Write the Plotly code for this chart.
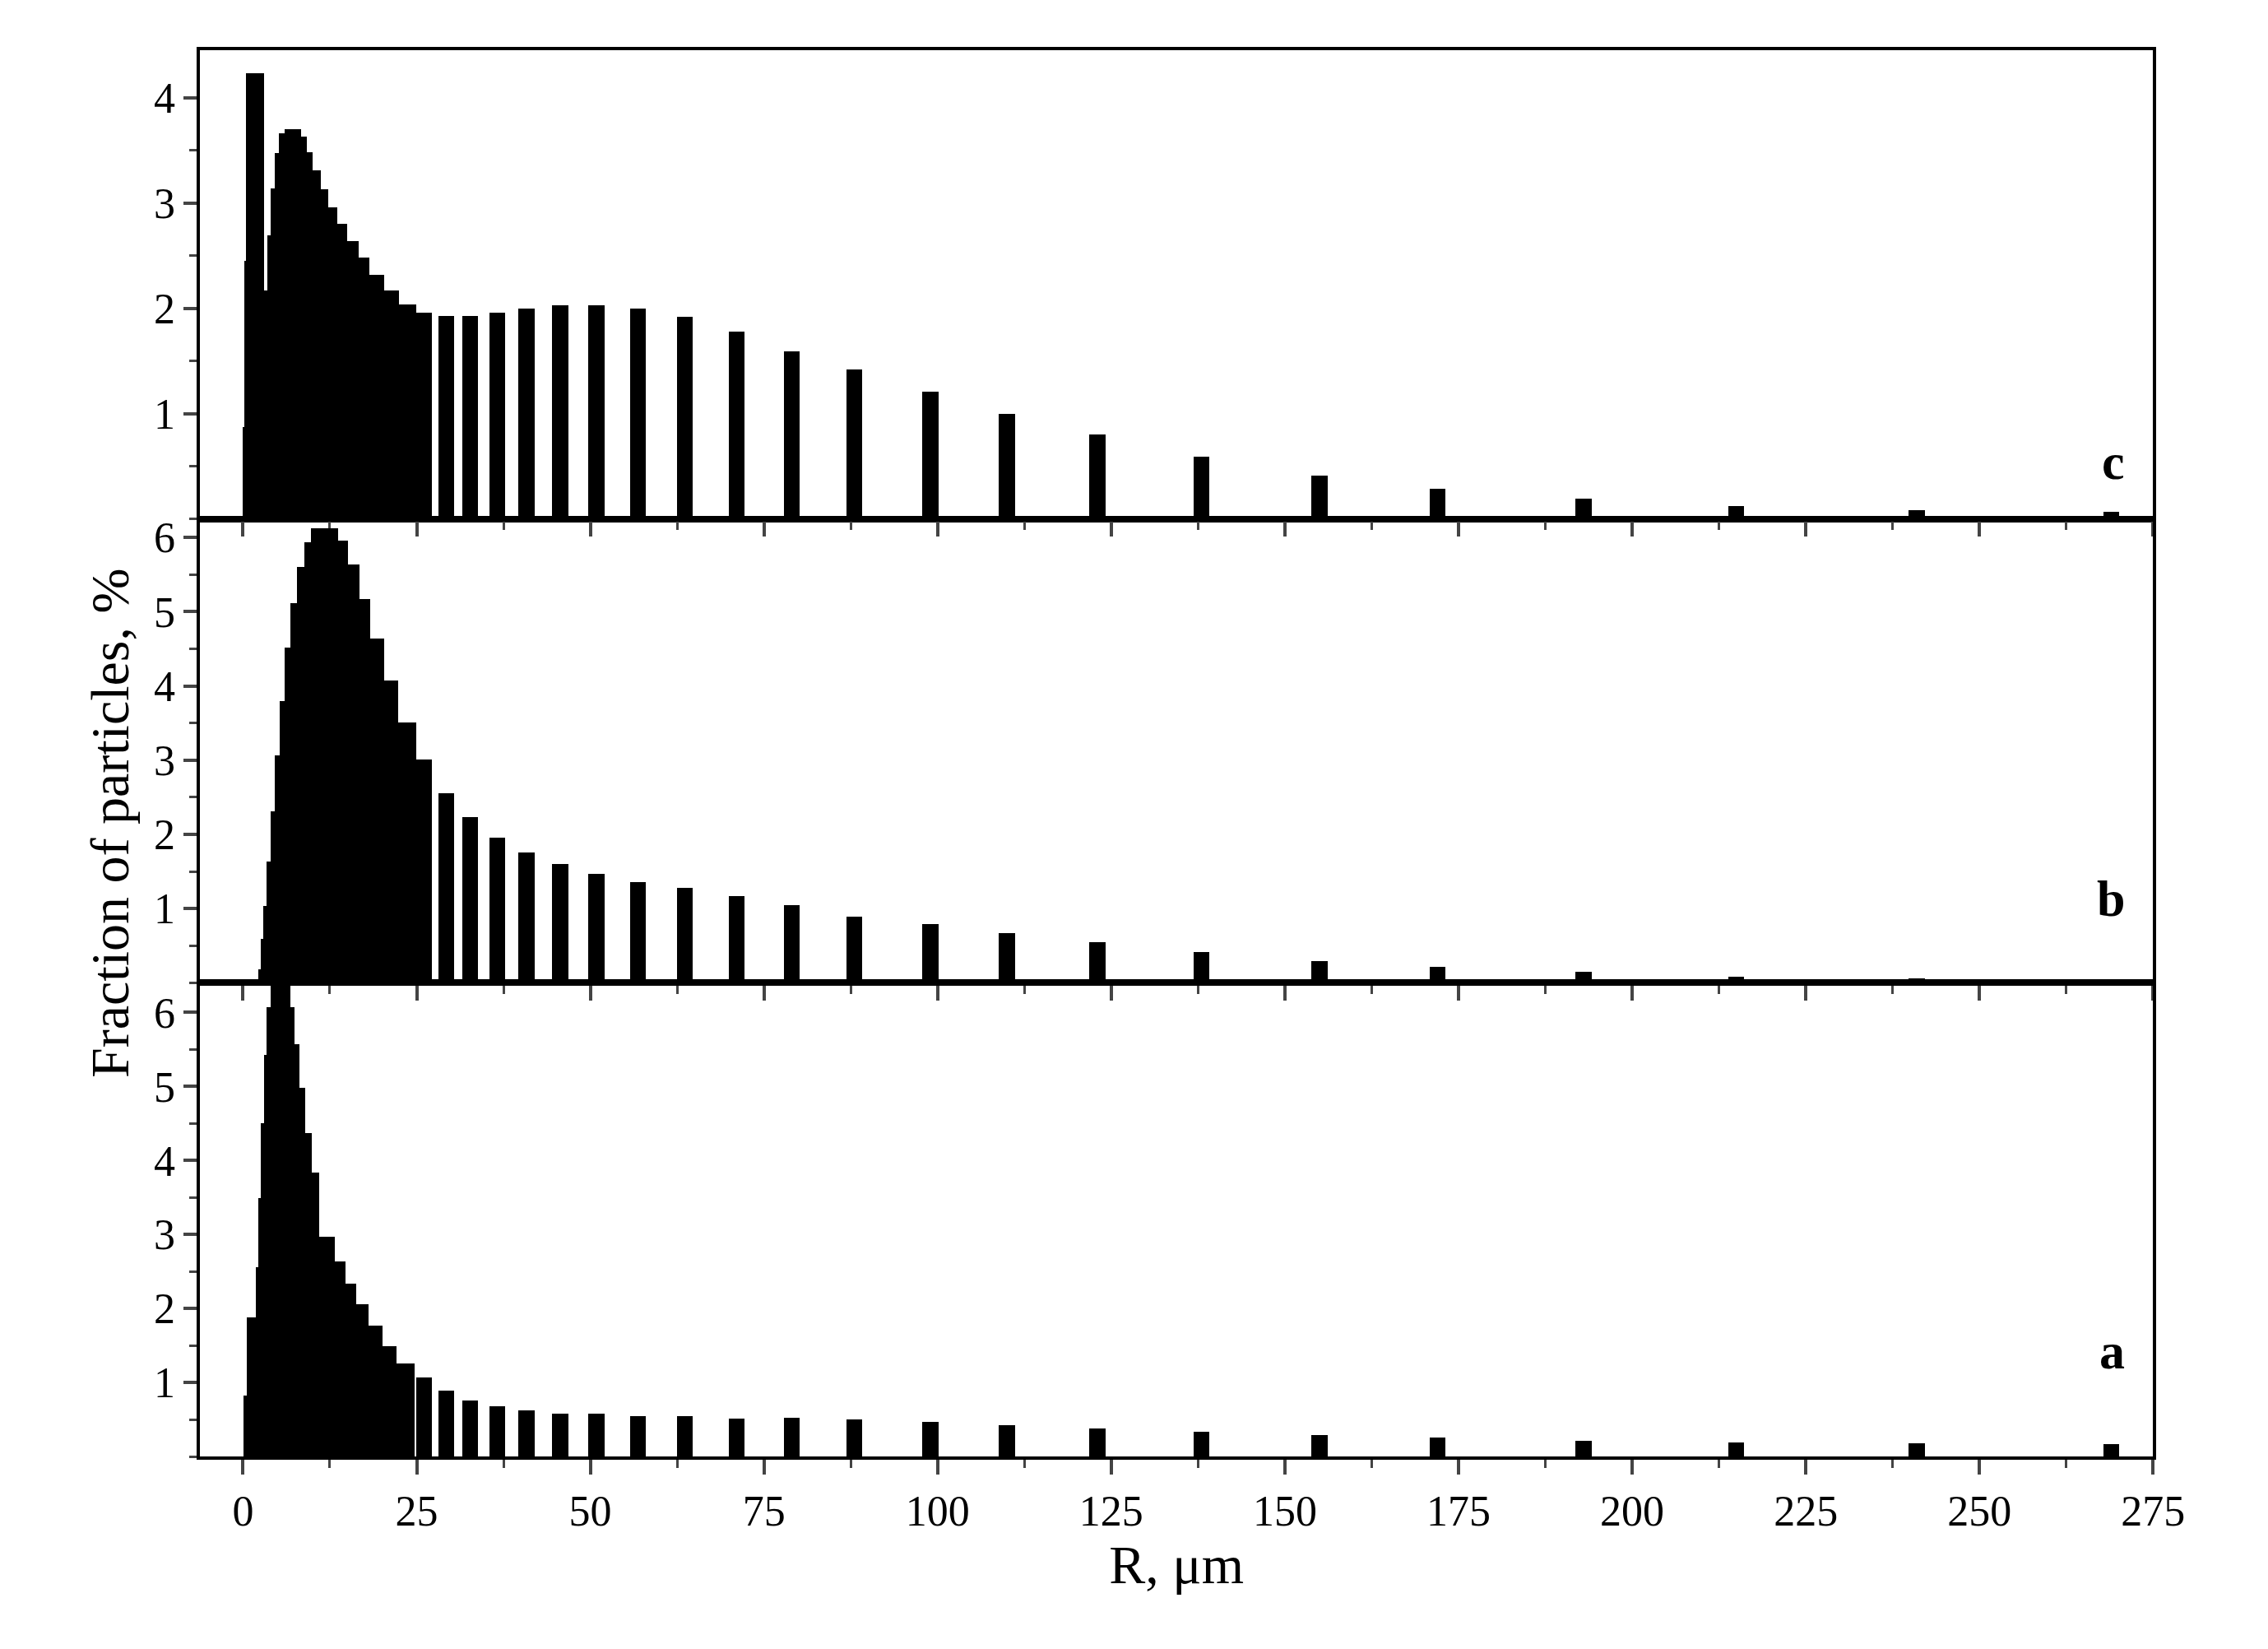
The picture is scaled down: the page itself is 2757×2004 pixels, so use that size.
import numpy as np
import plotly.graph_objects as go
from plotly.subplots import make_subplots

# R values (um) of the separated bars beyond ~25 um, shared by all panels
r_wide = [26.1, 29.3, 32.7, 36.6, 40.8, 45.7, 50.9, 56.9, 63.6, 71.1, 79, 88,
          99, 110, 123, 138, 155, 172, 193, 215, 241, 269]
wide_width = 2.3

# panel c
c_edges = [-0.52, 0.0, 0.26, 0.42, 3.02, 3.49, 4.01, 4.53, 5.21, 5.99, 8.33, 9.22,
           10.05, 11.2, 12.29, 13.54, 15.0, 16.67, 18.23, 20.31, 22.5, 25.0]
c_vals = [0.03, 0.87, 2.45, 4.23, 2.17, 2.69, 3.14, 3.47, 3.66, 3.70, 3.63, 3.48,
          3.31, 3.13, 2.96, 2.80, 2.64, 2.48, 2.32, 2.17, 2.04]
c_wide = [1.96, 1.93, 1.93, 1.96, 2.0, 2.03, 2.03, 2.0, 1.92, 1.78, 1.59, 1.42,
          1.21, 1.0, 0.8, 0.59, 0.41, 0.29, 0.19, 0.12, 0.08, 0.07]

# panel b
b_edges = [2.19, 2.55, 2.97, 3.39, 4.01, 4.53, 5.31, 5.94, 6.88, 7.76, 8.8, 9.84,
           13.65, 15.1, 16.77, 18.33, 20.31, 22.4, 24.95]
b_vals = [0.19, 0.6, 1.04, 1.64, 2.31, 3.07, 3.8, 4.52, 5.12, 5.61, 5.94, 6.13,
          5.96, 5.64, 5.18, 4.64, 4.08, 3.51]
b_wide = [3.01, 2.56, 2.24, 1.96, 1.76, 1.6, 1.47, 1.36, 1.28, 1.17, 1.05, 0.9,
          0.8, 0.67, 0.55, 0.42, 0.3, 0.22, 0.15, 0.09, 0.06, 0.05]

# panel a
a_edges = [0.1, 0.52, 1.82, 2.24, 2.6, 3.02, 3.39, 4.01, 6.77, 7.45, 8.18, 9.01,
           9.95, 10.94, 13.28, 14.74, 16.3, 18.13, 20.05, 22.14, 24.74]
a_vals = [0.82, 1.88, 2.55, 3.49, 4.5, 5.42, 6.07, 6.39, 6.07, 5.57, 4.98, 4.37,
          3.83, 2.96, 2.63, 2.33, 2.05, 1.76, 1.49, 1.25]
a_wide = [1.06, 0.89, 0.75, 0.67, 0.62, 0.58, 0.57, 0.54, 0.54, 0.51, 0.52, 0.5,
          0.46, 0.42, 0.38, 0.33, 0.29, 0.25, 0.21, 0.19, 0.17, 0.16]

panels = [("c", c_edges, c_vals, c_wide, 4.45, [1, 2, 3, 4]),
          ("b", b_edges, b_vals, b_wide, 6.25, [1, 2, 3, 4, 5, 6]),
          ("a", a_edges, a_vals, a_wide, 6.4, [1, 2, 3, 4, 5, 6])]

FONT = "Liberation Serif"
fig = make_subplots(rows=3, cols=1, shared_xaxes=False, vertical_spacing=0)

domains = [(0.691, 0.976), (0.409, 0.691), (0.121, 0.409)]
label_y = [0.744, 0.46, 0.167]

for i, (name, edges, vals, wide, ymax, yt) in enumerate(panels, start=1):
    e = np.array(edges)
    x = list((e[:-1] + e[1:]) / 2) + r_wide
    w = list(np.diff(e)) + [wide_width] * len(r_wide)
    fig.add_trace(go.Bar(x=x, y=list(vals) + list(wide), width=w,
                         marker=dict(color="black", line=dict(width=0)),
                         showlegend=False), row=i, col=1)
    fig.update_xaxes(range=[-6.2, 275], tickvals=list(range(0, 276, 25)),
                     ticks="outside", ticklen=18, tickwidth=3.5,
                     minor=dict(tickvals=[12.5 + 25 * k for k in range(11)],
                                ticks="outside", ticklen=10, tickwidth=3),
                     showline=True, linewidth=3.5, linecolor="black", mirror=True,
                     showgrid=False, zeroline=False,
                     showticklabels=(i == 3),
                     tickfont=dict(family=FONT, size=52, color="black"),
                     domain=[0.0865, 0.96], row=i, col=1)
    fig.update_yaxes(range=[0, ymax], tickvals=yt, ticks="outside", ticklen=16,
                     tickwidth=3.5,
                     minor=dict(dtick=0.5, ticks="outside", ticklen=9, tickwidth=3),
                     showline=True, linewidth=3.5, linecolor="black", mirror=True,
                     showgrid=False, zeroline=False,
                     tickfont=dict(family=FONT, size=52, color="black"),
                     domain=list(domains[i - 1]), row=i, col=1)
    fig.add_annotation(text="<b>%s</b>" % name, xref="paper", yref="paper",
                       x=0.948, y=label_y[i - 1], showarrow=False,
                       font=dict(family=FONT, size=62, color="black"))

fig.update_xaxes(title=dict(text="R, μm", font=dict(family=FONT, size=66, color="black"),
                            standoff=10), row=3, col=1)
fig.add_annotation(text="Fraction of particles, %", xref="paper", yref="paper",
                   x=0.032, y=0.506, textangle=-90, showarrow=False,
                   font=dict(family=FONT, size=66, color="black"))

fig.update_layout(width=2757, height=2004, bargap=0,
                  margin=dict(l=0, r=0, t=0, b=0),
                  paper_bgcolor="white", plot_bgcolor="white")
fig.write_html("out.html")
